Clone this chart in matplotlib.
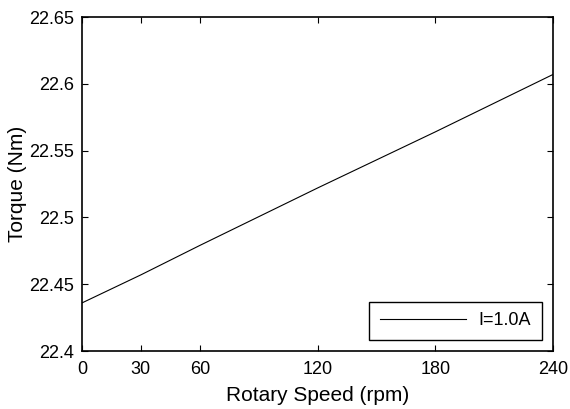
import matplotlib
matplotlib.use("Agg")
import matplotlib.pyplot as plt

plt.rcParams['font.family'] = ['Liberation Sans', 'DejaVu Sans']

# values
speed = [0, 30, 60, 120, 180, 240]
torque = [22.436, 22.457, 22.479, 22.522, 22.564, 22.607]
xticks = [0, 30, 60, 120, 180, 240]
yticks = [22.4, 22.45, 22.5, 22.55, 22.6, 22.65]
ytick_labels = ['22.4', '22.45', '22.5', '22.55', '22.6', '22.65']

fig = plt.figure(figsize=(5.7, 4.09), dpi=100)
ax = fig.add_axes([0.1439, 0.1418, 0.8263, 0.8166])

ax.plot(speed, torque, color='black', linewidth=0.8, label='I=1.0A')

ax.set_xlim(0, 240)
ax.set_ylim(22.4, 22.65)
ax.set_xticks(xticks)
ax.set_yticks(yticks)
ax.set_yticklabels(ytick_labels)
ax.tick_params(direction='in', top=True, right=True, length=4, width=0.8,
               labelsize=13, pad=6)
ax.tick_params(axis='x', pad=7)
for s in ax.spines.values():
    s.set_linewidth(1.2)

ax.set_xlabel('Rotary Speed (rpm)', fontsize=15, labelpad=6)
ax.set_ylabel('Torque (Nm)', fontsize=15, labelpad=1)

leg = ax.legend(loc='lower right', fancybox=False, edgecolor='black',
                framealpha=1, fontsize=13, handlelength=4.8,
                handletextpad=0.7, borderaxespad=0.6, borderpad=0.6)
leg.get_frame().set_linewidth(1.0)

fig.savefig('out.png', dpi=100)
